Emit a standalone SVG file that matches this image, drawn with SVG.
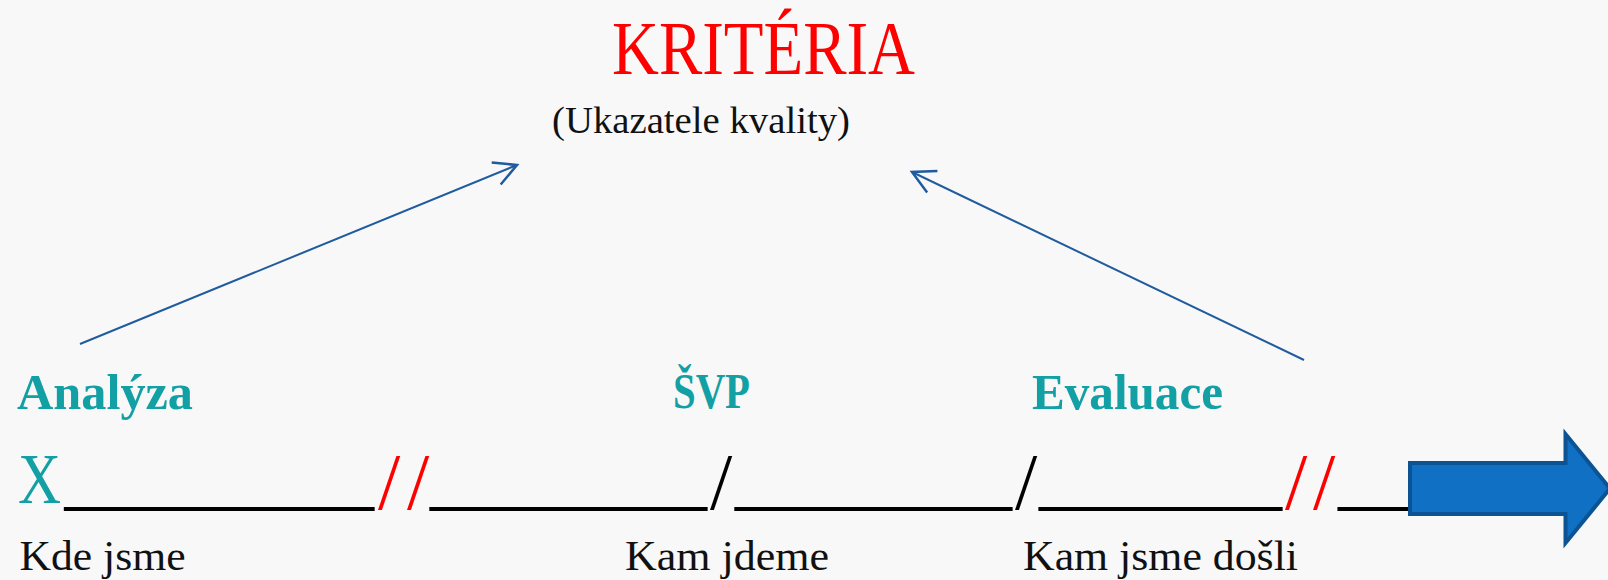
<svg xmlns="http://www.w3.org/2000/svg" width="1608" height="580" viewBox="0 0 1608 580">
  <defs>
    <style>
      .serif { font-family: "Liberation Serif", "DejaVu Serif", serif; }
      .teal { fill: #12a0a4; font-weight: bold; font-size: 50px; }
      .label { fill: #111111; font-size: 42px; }
      .rule { fill: #000000; font-size: 80px; }
      .redslash { fill: #ff0000; font-size: 80px; }
      .conn { stroke: #1f5b9e; stroke-width: 2; fill: none; }
    </style>
    <marker id="openArrow" markerUnits="userSpaceOnUse" markerWidth="30" markerHeight="30" refX="0" refY="0" viewBox="-22 -12 24 24" orient="auto" overflow="visible">
      <path d="M -18,-9.5 L 0,0 L -18,9.5" fill="none" stroke="#1f5b9e" stroke-width="2"/>
    </marker>
  </defs>

  <rect x="0" y="0" width="1608" height="580" fill="#f8f8f8"/>

  <g id="title" class="serif">
    <text x="612" y="74" font-size="76" fill="#ff0000" textLength="303" lengthAdjust="spacingAndGlyphs">KRITÉRIA</text>
    <text x="552" y="133" font-size="38" fill="#111111" textLength="298" lengthAdjust="spacingAndGlyphs">(Ukazatele kvality)</text>
  </g>

  <g id="connectors">
    <line class="conn" x1="80" y1="344" x2="517" y2="165" marker-end="url(#openArrow)"/>
    <line class="conn" x1="1304" y1="360" x2="912" y2="172" marker-end="url(#openArrow)"/>
  </g>

  <g id="analyza" class="serif">
    <text class="teal" x="17" y="409" textLength="176" lengthAdjust="spacingAndGlyphs">Analýza</text>
  </g>
  <g id="svp" class="serif">
    <text class="teal" x="673" y="407.5" textLength="77" lengthAdjust="spacingAndGlyphs">ŠVP</text>
  </g>
  <g id="evaluace" class="serif">
    <text class="teal" x="1032" y="409" textLength="191" lengthAdjust="spacingAndGlyphs">Evaluace</text>
  </g>

  <g id="timeline" class="serif">
    <text x="18" y="503" font-size="71" fill="#12a0a4" textLength="43" lengthAdjust="spacingAndGlyphs">X</text>
    <text class="rule" x="64.5" y="501.3" textLength="309.5" lengthAdjust="spacingAndGlyphs">_______</text>
    <text class="redslash" x="378 407" y="509.3">//</text>
    <text class="rule" x="430" y="501.3" textLength="277" lengthAdjust="spacingAndGlyphs">______</text>
    <text class="rule" x="710" y="509.3">/</text>
    <text class="rule" x="735" y="501.3" textLength="277" lengthAdjust="spacingAndGlyphs">______</text>
    <text class="rule" x="1015" y="509.3">/</text>
    <text class="rule" x="1039" y="501.3" textLength="243" lengthAdjust="spacingAndGlyphs">______</text>
    <text class="redslash" x="1285 1313" y="509.3">//</text>
    <text class="rule" x="1338" y="501.3" textLength="74" lengthAdjust="spacingAndGlyphs">__</text>
  </g>

  <g id="big-arrow">
    <path d="M 1410,463 L 1565.5,463 L 1565.5,434 L 1610,488.5 L 1565.5,543 L 1565.5,514 L 1410,514 Z" fill="#1070c4" stroke="#0c5394" stroke-width="4" stroke-linejoin="miter"/>
  </g>

  <g id="labels" class="serif">
    <text class="label" x="19.5" y="570" textLength="166" lengthAdjust="spacingAndGlyphs">Kde jsme</text>
    <text class="label" x="625" y="570" textLength="204" lengthAdjust="spacingAndGlyphs">Kam jdeme</text>
    <text class="label" x="1023" y="570" textLength="275" lengthAdjust="spacingAndGlyphs">Kam jsme došli</text>
  </g>
</svg>
